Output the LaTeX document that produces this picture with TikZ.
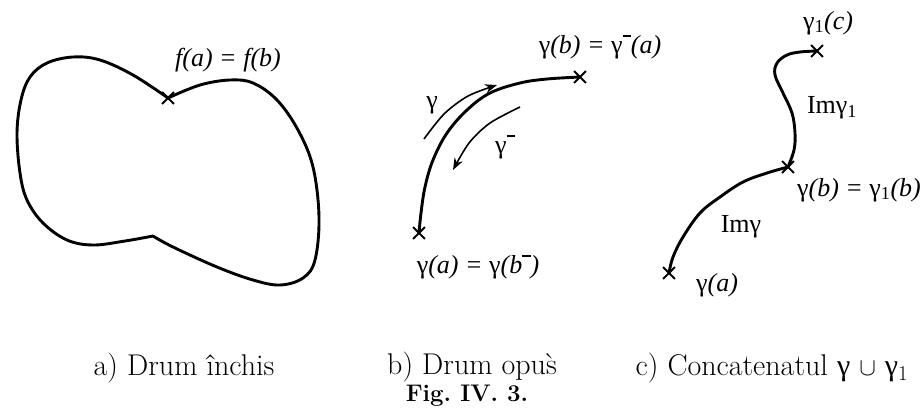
\documentclass[tikz,border=0pt]{standalone}
\usepackage{fontspec}
\usetikzlibrary{shapes.misc,arrows.meta}
\newfontfamily\labfont{Liberation Serif}
\newcommand\gam{\textup{γ}}
\newcommand\one{\textsubscript{\upshape 1}}
\newcommand\supbar{\raisebox{0.62em}{\rule{0.32em}{0.08em}}}
\frenchspacing
\tikzset{
  curve/.style={line width=2.9pt, line cap=round, line join=round},
  xmark/.style={cross out, draw, line width=1.9pt, minimum size=10pt, inner sep=0pt},
  lab/.style={font=\labfont\itshape\fontsize{26}{28}\selectfont, inner sep=0pt},
  captext/.style={font=\fontsize{30}{32}\selectfont, inner sep=0pt},
  dirarrow/.style={line width=1.6pt, -{Stealth[length=12pt,width=9pt]}}
}
\begin{document}
\begin{tikzpicture}[x=1pt,y=-1pt]
\useasboundingbox (0,0) rectangle (923,408);
% ---------- panel a ----------
\coordinate (ax) at (168,98);
\coordinate (an) at (153,236);
\draw[curve] plot[smooth, tension=0.6] coordinates {(ax) (133,75) (100,60) (73,57) (47,63) (30,77) (21,100) (17,133) (20,173) (27,200) (43,223) (67,240) (93,245) (125,241) (an)};
\draw[curve] plot[smooth, tension=0.6] coordinates {(an) (173,247) (217,267) (253,280) (280,285) (303,278) (315,260) (319,217) (313,167) (298,130) (277,100) (253,83) (230,80) (200,85) (ax)};
\node[xmark] (axm) at (ax) {};
\node[lab] (la) at (228,60) {f(a) = f(b)};
% ---------- panel b ----------
\coordinate (ba) at (419,233);
\coordinate (bb) at (580,77);
\draw[curve] plot[smooth, tension=0.6] coordinates {(ba) (421,213) (425,187) (433,160) (447,133) (467,110) (490,93) (520,83) (547,79) (bb)};
\node[xmark] (bam) at (ba) {};
\node[xmark] (bbm) at (bb) {};
\coordinate (g1) at (424,139);
\coordinate (g2) at (497,85);
\draw[dirarrow] plot[smooth] coordinates {(g1) (444,114) (468,96) (g2)};
\coordinate (h1) at (520,107);
\coordinate (h2) at (453,170);
\draw[dirarrow] plot[smooth] coordinates {(h1) (490,123) (469,143) (h2)};
\node[lab] (lg) at (432,105) {\gam};
\node[lab] (lgm) at (505,147) {\gam\supbar};
\node[lab] (lbtop) at (600,47) {\gam(b) = \gam\supbar(a)};
\node[lab] (lbbot) at (478,267) {\gam(a) = \gam(b\supbar)};
% ---------- panel c ----------
\coordinate (ca) at (669,273);
\coordinate (cb) at (788,167);
\coordinate (cc) at (817,51);
\draw[curve] plot[smooth, tension=0.6] coordinates {(ca) (673,257) (683,237) (700,213) (720,197) (743,182) (767,173) (cb)};
\draw[curve] plot[smooth, tension=0.6] coordinates {(cb) (794,150) (795,133) (792,113) (783,93) (775,75) (777,63) (787,55) (800,52) (cc)};
\node[xmark] (cam) at (ca) {};
\node[xmark] (cbm) at (cb) {};
\node[xmark] (ccm) at (cc) {};
\node[lab] (lc1) at (828,23) {\gam\one(c)};
\node[lab] (lc2) at (832,108) {\upshape Im\gam\one};
\node[lab] (lc3) at (859,190) {\gam(b) = \gam\one(b)};
\node[lab] (lc4) at (741,227) {\upshape Im\gam};
\node[lab] (lc5) at (717,285) {\gam(a)};
% ---------- captions ----------
\node[captext] (capa) at (184,368) {a) Drum închis};
\node[captext] (capb) at (472,367) {b) Drum opus̀};
\node[captext] (capc) at (772,368) {c) Concatenatul {\labfont\gam} $\cup$ {\labfont\gam}\textsubscript{1}};
\node[font=\bfseries\fontsize{24}{26}\selectfont, inner sep=0pt, anchor=base] (fig) at (467,401) {Fig. IV. 3.};
\end{tikzpicture}
\end{document}
